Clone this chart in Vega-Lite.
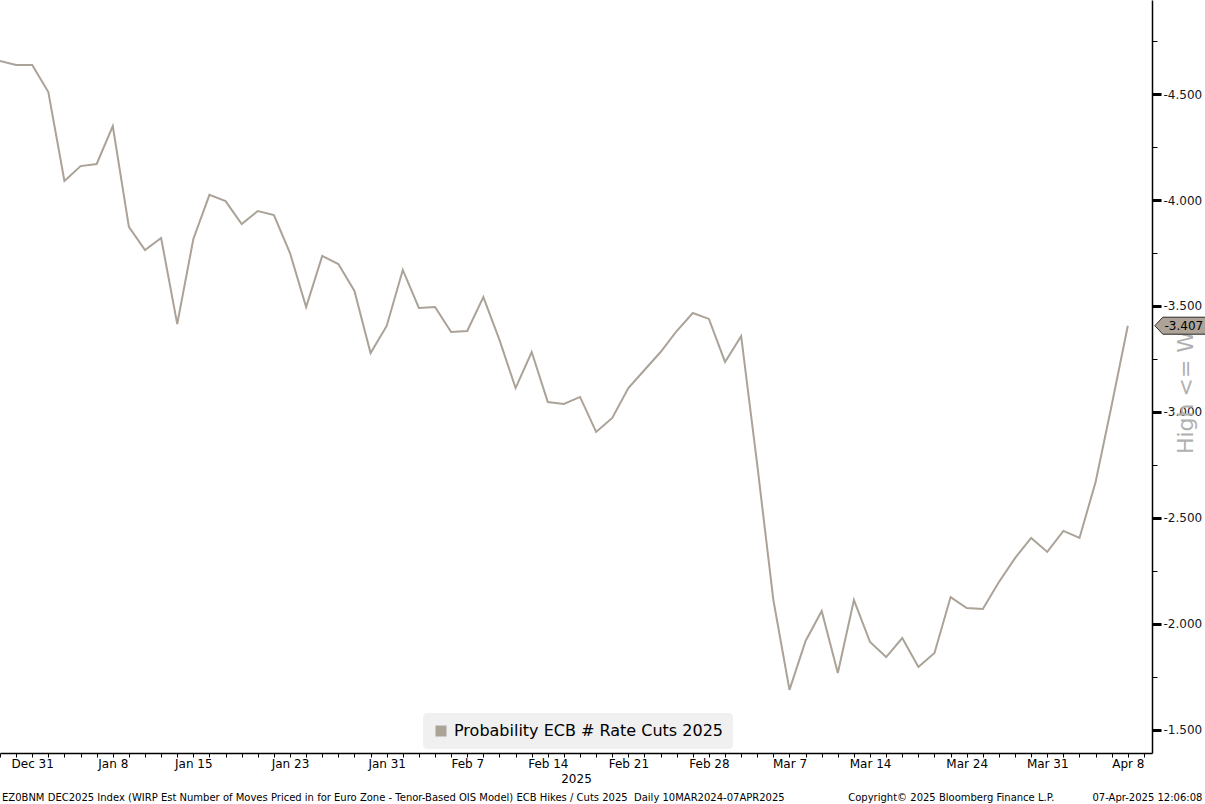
{
  "$schema": "https://vega.github.io/schema/vega-lite/v6.json",
  "autosize": {"type": "none"},
  "width": 1152,
  "height": 753,
  "padding": {"left": 0, "top": 0, "right": 53, "bottom": 51},
  "background": "#ffffff",
  "config": {
    "view": {"stroke": null},
    "font": "DejaVu Sans",
    "locale": {
      "number": {"decimal": ".", "thousands": ",", "grouping": [3], "currency": ["$", ""], "minus": "-"}
    }
  },
  "title": {
    "text": "EZ0BNM DEC2025 Index (WIRP Est Number of Moves Priced in for Euro Zone - Tenor-Based OIS Model) ECB Hikes / Cuts 2025\u00a0\u00a0Daily 10MAR2024-07APR2025\u00a0\u00a0\u00a0\u00a0\u00a0\u00a0\u00a0\u00a0\u00a0\u00a0\u00a0\u00a0\u00a0\u00a0\u00a0\u00a0\u00a0\u00a0\u00a0\u00a0Copyright\u00a9 2025 Bloomberg Finance L.P.\u00a0\u00a0\u00a0\u00a0\u00a0\u00a0\u00a0\u00a0\u00a0\u00a0\u00a0\u00a007-Apr-2025 12:06:08",
    "orient": "bottom",
    "anchor": "start",
    "frame": "group",
    "font": "DejaVu Sans",
    "fontSize": 10,
    "fontWeight": "normal",
    "color": "#000000",
    "offset": 9,
    "dx": 2
  },
  "data": {
    "values": [
      {"d": "2024-12-27", "v": -4.656},
      {"d": "2024-12-30", "v": -4.637},
      {"d": "2024-12-31", "v": -4.637},
      {"d": "2025-01-02", "v": -4.509},
      {"d": "2025-01-03", "v": -4.090},
      {"d": "2025-01-06", "v": -4.160},
      {"d": "2025-01-07", "v": -4.170},
      {"d": "2025-01-08", "v": -4.349},
      {"d": "2025-01-09", "v": -3.873},
      {"d": "2025-01-10", "v": -3.764},
      {"d": "2025-01-13", "v": -3.821},
      {"d": "2025-01-14", "v": -3.415},
      {"d": "2025-01-15", "v": -3.816},
      {"d": "2025-01-16", "v": -4.024},
      {"d": "2025-01-17", "v": -3.995},
      {"d": "2025-01-20", "v": -3.887},
      {"d": "2025-01-21", "v": -3.948},
      {"d": "2025-01-22", "v": -3.929},
      {"d": "2025-01-23", "v": -3.750},
      {"d": "2025-01-24", "v": -3.495},
      {"d": "2025-01-27", "v": -3.736},
      {"d": "2025-01-28", "v": -3.698},
      {"d": "2025-01-29", "v": -3.571},
      {"d": "2025-01-30", "v": -3.278},
      {"d": "2025-01-31", "v": -3.406},
      {"d": "2025-02-03", "v": -3.670},
      {"d": "2025-02-04", "v": -3.491},
      {"d": "2025-02-05", "v": -3.495},
      {"d": "2025-02-06", "v": -3.377},
      {"d": "2025-02-07", "v": -3.382},
      {"d": "2025-02-10", "v": -3.542},
      {"d": "2025-02-11", "v": -3.340},
      {"d": "2025-02-12", "v": -3.113},
      {"d": "2025-02-13", "v": -3.283},
      {"d": "2025-02-14", "v": -3.047},
      {"d": "2025-02-17", "v": -3.038},
      {"d": "2025-02-18", "v": -3.071},
      {"d": "2025-02-19", "v": -2.906},
      {"d": "2025-02-20", "v": -2.972},
      {"d": "2025-02-21", "v": -3.113},
      {"d": "2025-02-24", "v": -3.198},
      {"d": "2025-02-25", "v": -3.283},
      {"d": "2025-02-26", "v": -3.382},
      {"d": "2025-02-27", "v": -3.467},
      {"d": "2025-02-28", "v": -3.439},
      {"d": "2025-03-03", "v": -3.236},
      {"d": "2025-03-04", "v": -3.358},
      {"d": "2025-03-05", "v": -2.750},
      {"d": "2025-03-06", "v": -2.113},
      {"d": "2025-03-07", "v": -1.689},
      {"d": "2025-03-10", "v": -1.920},
      {"d": "2025-03-11", "v": -2.061},
      {"d": "2025-03-12", "v": -1.769},
      {"d": "2025-03-13", "v": -2.113},
      {"d": "2025-03-14", "v": -1.915},
      {"d": "2025-03-17", "v": -1.844},
      {"d": "2025-03-18", "v": -1.934},
      {"d": "2025-03-19", "v": -1.797},
      {"d": "2025-03-20", "v": -1.863},
      {"d": "2025-03-21", "v": -2.127},
      {"d": "2025-03-24", "v": -2.075},
      {"d": "2025-03-25", "v": -2.071},
      {"d": "2025-03-26", "v": -2.198},
      {"d": "2025-03-27", "v": -2.311},
      {"d": "2025-03-28", "v": -2.406},
      {"d": "2025-03-31", "v": -2.340},
      {"d": "2025-04-01", "v": -2.439},
      {"d": "2025-04-02", "v": -2.406},
      {"d": "2025-04-03", "v": -2.670},
      {"d": "2025-04-04", "v": -3.033},
      {"d": "2025-04-07", "v": -3.407}
    ]
  },
  "encoding": {
    "x": {
      "field": "d",
      "type": "ordinal",
      "scale": {
        "type": "point",
        "padding": 0.25,
        "align": 0,
        "domain": ["2024-12-27","2024-12-30","2024-12-31","2025-01-02","2025-01-03","2025-01-06","2025-01-07","2025-01-08","2025-01-09","2025-01-10","2025-01-13","2025-01-14","2025-01-15","2025-01-16","2025-01-17","2025-01-20","2025-01-21","2025-01-22","2025-01-23","2025-01-24","2025-01-27","2025-01-28","2025-01-29","2025-01-30","2025-01-31","2025-02-03","2025-02-04","2025-02-05","2025-02-06","2025-02-07","2025-02-10","2025-02-11","2025-02-12","2025-02-13","2025-02-14","2025-02-17","2025-02-18","2025-02-19","2025-02-20","2025-02-21","2025-02-24","2025-02-25","2025-02-26","2025-02-27","2025-02-28","2025-03-03","2025-03-04","2025-03-05","2025-03-06","2025-03-07","2025-03-10","2025-03-11","2025-03-12","2025-03-13","2025-03-14","2025-03-17","2025-03-18","2025-03-19","2025-03-20","2025-03-21","2025-03-24","2025-03-25","2025-03-26","2025-03-27","2025-03-28","2025-03-31","2025-04-01","2025-04-02","2025-04-03","2025-04-04","2025-04-07","2025-04-08"]
      },
      "axis": {
        "orient": "bottom",
        "title": "2025",
        "titleFont": "DejaVu Sans",
        "titleFontSize": 12,
        "titleFontWeight": "normal",
        "titleColor": "#000000",
        "titlePadding": 4,
        "domainColor": "#000000",
        "domainWidth": 1.5,
        "tickColor": "#000000",
        "tickSize": 4,
        "tickWidth": 1,
        "labelFont": "DejaVu Sans",
        "labelFontSize": 12,
        "labelColor": "#000000",
        "labelPadding": 1,
        "labelAngle": 0,
        "labelOverlap": false,
        "grid": false,
        "labelExpr": "datum.value == '2025-04-07' ? 'Apr 8' : (indexof(['2024-12-31','2025-01-08','2025-01-15','2025-01-23','2025-01-31','2025-02-07','2025-02-14','2025-02-21','2025-02-28','2025-03-07','2025-03-14','2025-03-24','2025-03-31'], datum.value) >= 0 ? ['Dec 31','Jan 8','Jan 15','Jan 23','Jan 31','Feb 7','Feb 14','Feb 21','Feb 28','Mar 7','Mar 14','Mar 24','Mar 31'][indexof(['2024-12-31','2025-01-08','2025-01-15','2025-01-23','2025-01-31','2025-02-07','2025-02-14','2025-02-21','2025-02-28','2025-03-07','2025-03-14','2025-03-24','2025-03-31'], datum.value)] : '')"
      }
    },
    "y": {
      "field": "v",
      "type": "quantitative",
      "scale": {"domain": [-4.9434, -1.3915], "reverse": true, "nice": false, "zero": false},
      "axis": {
        "orient": "right",
        "values": [-4.75, -4.5, -4.25, -4.0, -3.75, -3.5, -3.25, -3.0, -2.75, -2.5, -2.25, -2.0, -1.75, -1.5],
        "grid": false,
        "domainColor": "#000000",
        "domainWidth": 1.5,
        "tickColor": "#000000",
        "tickSize": {"condition": {"test": "abs(datum.value * 2 - round(datum.value * 2)) < 0.001", "value": 9}, "value": 5},
        "tickWidth": {"condition": {"test": "abs(datum.value * 2 - round(datum.value * 2)) < 0.001", "value": 3}, "value": 1},
        "labelExpr": "abs(datum.value * 2 - round(datum.value * 2)) < 0.001 ? format(datum.value, '.3f') : ''",
        "labelFont": "DejaVu Sans",
        "labelFontSize": 12,
        "labelColor": "#101828",
        "labelPadding": 2,
        "labelOverlap": false,
        "labelLimit": 0,
        "title": "High <= W",
        "titleFont": "DejaVu Sans",
        "titleFontSize": 22,
        "titleFontWeight": "normal",
        "titleColor": "#b0b0b0",
        "titleAngle": 270,
        "titleX": 33,
        "titleY": 392,
        "titleAlign": "center",
        "titleBaseline": "middle"
      }
    }
  },
  "layer": [
    {
      "mark": {"type": "line", "strokeWidth": 2, "interpolate": "linear"},
      "encoding": {
        "color": {
          "datum": "Probability ECB # Rate Cuts 2025",
          "type": "nominal",
          "scale": {"range": ["#aba298"]},
          "legend": {
            "title": null,
            "orient": "none",
            "legendX": 423,
            "legendY": 713,
            "padding": 10,
            "fillColor": "#f0f0f0",
            "cornerRadius": 4,
            "labelFont": "DejaVu Sans",
            "labelFontSize": 16,
            "labelColor": "#000000",
            "labelOffset": 5,
            "labelLimit": 0,
            "symbolSize": 121,
            "symbolType": "square",
            "encode": {
              "symbols": {
                "update": {
                  "fill": {"value": "#aba298"},
                  "stroke": {"value": "#aba298"},
                  "strokeWidth": {"value": 0},
                  "shape": {"value": "square"}
                }
              }
            }
          }
        }
      }
    },
    {
      "transform": [{"filter": "datum.d == '2025-04-07'"}],
      "mark": {
        "type": "point",
        "shape": "M2.7,0L3.5,-0.85L7.8,-0.85L7.8,0.85L3.5,0.85Z",
        "size": 400,
        "filled": true,
        "fill": "#ada397",
        "stroke": "#2a2a2a",
        "strokeWidth": 1,
        "opacity": 1
      },
      "encoding": {}
    },
    {
      "transform": [{"filter": "datum.d == '2025-04-07'"}],
      "mark": {
        "type": "text",
        "dx": 56,
        "align": "center",
        "baseline": "middle",
        "font": "DejaVu Sans",
        "fontSize": 12,
        "color": "#000000"
      },
      "encoding": {
        "text": {"field": "v", "type": "quantitative", "format": ".3f"}
      }
    }
  ]
}
